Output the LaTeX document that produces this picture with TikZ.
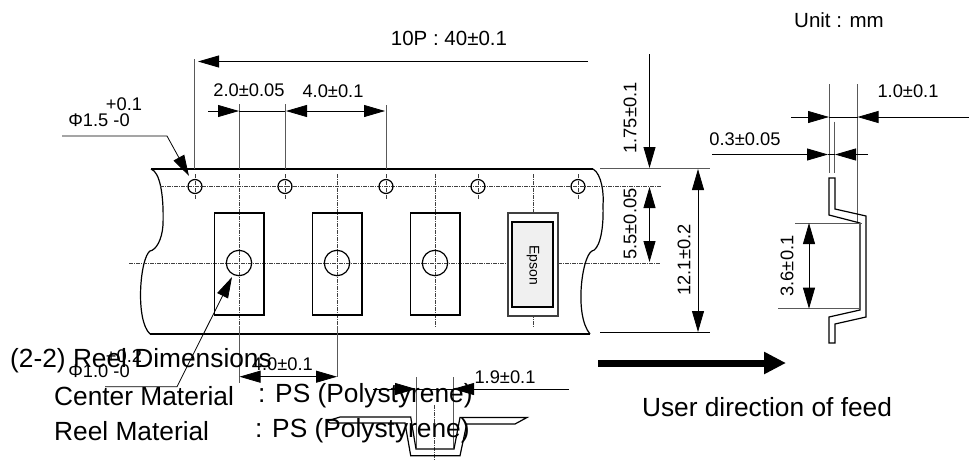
\documentclass[tikz,border=0pt]{standalone}
\usepackage{fontspec}
\setmainfont{Liberation Sans}
\usetikzlibrary{arrows.meta}
\tikzset{
  tape-line/.style={line width=1.7pt, black},
  tape-thin/.style={line width=1.2pt, black},
  ext-line/.style={line width=0.9pt, black!65},
  dim-line/.style={line width=0.8pt, black},
  dim-arrow/.style={dim-line, -{Triangle[length=21pt,width=12pt]}},
  dim-both/.style={dim-line, {Triangle[length=21pt,width=12pt]}-{Triangle[length=21pt,width=12pt]}},
  center-line/.style={line width=0.6pt, black!75, dash pattern=on 4pt off 1pt on 1pt off 1pt},
  feed-arrow/.style={line width=7pt, -{Triangle[length=22pt,width=21pt]}},
  small-label/.style={font=\fontsize{18.3}{20}\selectfont, inner sep=0pt},
  unit-label/.style={font=\fontsize{20.5}{22}\selectfont, inner sep=0pt},
  big-label/.style={font=\fontsize{26.3}{28}\selectfont, inner sep=0pt}
}
\begin{document}
\begin{tikzpicture}[x=1pt,y=-1pt]
  \useasboundingbox (0,0) rectangle (969,461);

  % tape outline
  \draw[tape-line] (151,169) -- (593,169);
  \draw[tape-line] (150,334) -- (590,334);
  \draw[tape-thin] (151,169) .. controls (160,172) and (164,195) .. (163,225)
    .. controls (162,240) and (156,250) .. (150,251)
    .. controls (140,258) and (135,320) .. (150,334);
  \draw[tape-thin] (593,169) .. controls (602,174) and (604,195) .. (603,205)
    .. controls (604,235) and (598,250) .. (592,251)
    .. controls (582,256) and (574,315) .. (590,334);

  % centre lines
  \draw[center-line] (160,186.5) -- (661,186.5);
  \draw[center-line] (129,263) -- (508,263) (558,263) -- (661,263);
  \foreach \px in {195,285,386,478,578} {
    \draw[center-line] (\px,174) -- (\px,199);
    \draw[tape-thin] (\px,186.5) circle (7);
  }
  \foreach \px in {239,337,435} {
    \draw[center-line] (\px,174) -- (\px,327);
    \draw[tape-thin] (\px-24.5,213) rectangle (\px+25,315);
    \draw[tape-thin] (\px,263) circle (12.7);
  }

  % embossed part
  \draw[center-line] (533,174) -- (533,327);
  \draw[tape-thin, black!75, fill=white] (508,213) rectangle (558,316);
  \draw[tape-line, fill=black!6] (512,222) rectangle (553,307);
  \node[rotate=-90, font=\fontsize{14}{16}\selectfont, inner sep=0pt] (epson) at (533,265) {Epson};

  % pitch and hole dimensions
  \draw[ext-line] (194.5,59) -- (194.5,169);
  \draw[dim-arrow] (588,61.5) -- (198,61.5);
  \node[unit-label] (pitch) at (449,38) {10P : 40±0.1};
  \foreach \px/\ytop in {239/104,285/104,386/105} {
    \draw[ext-line] (\px,\ytop) -- (\px,169);
  }
  \draw[dim-arrow] (208,111) -- (239,111);
  \draw[dim-line] (239,111) -- (285,111);
  \draw[dim-both] (286,111) -- (385,111);
  \node[small-label] (holeA) at (249,90) {2.0±0.05};
  \node[small-label] (holeB) at (333,91) {4.0±0.1};

  % sprocket hole leader
  \draw[dim-arrow] (62,136) -- (167,136) -- (189,176);
  \node[small-label] (sprocketTol) at (124,104) {+0.1};
  \node[small-label] (sprocketDia) at (99,120) {Φ1.5 -0};

  % vertical dimensions
  \draw[ext-line] (600,168) -- (710,168);
  \draw[dim-line] (600,332.5) -- (710,332.5);
  \draw[dim-arrow] (649.5,54) -- (649.5,168);
  \draw[dim-both] (649.5,187) -- (649.5,262);
  \draw[dim-both] (698,169) -- (698,332);
  \node[rotate=90, small-label] (edgeDist) at (630,118) {1.75±0.1};
  \node[rotate=90, small-label] (rowDist) at (630,224) {5.5±0.05};
  \node[rotate=90, small-label] (tapeWidth) at (684,260) {12.1±0.2};

  % feed direction
  \draw[feed-arrow] (598,363) -- (786,363);
  \node[big-label] (feed) at (767,407) {User direction of feed};

  % side profile
  \node[unit-label] (unit) at (839,20) {Unit : mm};
  \draw[ext-line] (829,84) -- (829,172.7);
  \draw[ext-line] (857.5,84) -- (857.5,223);
  \draw[ext-line] (834.7,121.7) -- (834.7,172.7);
  \draw[dim-arrow] (791,117) -- (829,117);
  \draw[dim-line] (829,117) -- (857.5,117);
  \draw[dim-arrow] (969,117) -- (857.5,117);
  \node[small-label] (pocketWall) at (908,91) {1.0±0.1};
  \draw[dim-arrow] (712,154.5) -- (828,154.5);
  \draw[dim-line] (828,154.5) -- (835,154.5);
  \draw[dim-arrow] (868,154.5) -- (835,154.5);
  \node[small-label] (wallThick) at (745,139) {0.3±0.05};
  \draw[tape-thin] (829,178) -- (835,178) -- (835,209) -- (866,216) -- (866,317)
    -- (835,324) -- (835,343) -- (829,343) -- (829,317) -- (860,310) -- (860,223)
    -- (829,215) -- cycle;
  \draw[ext-line] (795,223) -- (862,223);
  \draw[ext-line] (778,308.7) -- (859,308.7);
  \draw[dim-both] (809,223) -- (809,308.7);
  \node[rotate=90, small-label] (pocketDepth) at (787,266) {3.6±0.1};

  % bottom profile
  \draw[ext-line] (239,326) -- (239,383);
  \draw[ext-line] (337,326) -- (337,377);
  \draw[dim-both] (239.5,376.7) -- (337,376.7);
  \node[small-label, anchor=east] (pocketPitch) at (313,364) {4.0±0.1};
  \draw[ext-line] (416,377) -- (416,448);
  \draw[ext-line] (453,377) -- (453,448);
  \draw[dim-arrow] (373,389) -- (416,389);
  \draw[dim-line] (416,389) -- (453,389);
  \draw[dim-arrow] (569,389) -- (453,389);
  \node[small-label] (pocketLen) at (505,377) {1.9±0.1};
  \draw[center-line] (434,405) -- (434,461);
  \draw[tape-thin] (340,417) -- (410.7,417) -- (416,449) -- (454,449) -- (460,417.5)
    -- (527,417.5) -- (515,424) -- (466.7,424) -- (460,455.7) -- (410.7,455.7)
    -- (405,423) -- (330,423) -- (327,421) -- cycle;

  % centre hole leader
  \draw[dim-arrow] (105,386.7) -- (177,386.7) -- (232,277);
  \node[small-label] (centerTol) at (124,356) {+0.2};
  \node[small-label] (centerDia) at (99,371) {Φ1.0 -0};

  % reel text on top
  \node[big-label, anchor=west] (reelTitle) at (10,361) {(2-2) Reel Dimensions};
  \node[big-label, anchor=west] (centerMat) at (54,396) {Center Material};
  \node[big-label, anchor=west] (centerPs) at (258,396) {: PS (Polystyrene)};
  \node[big-label, anchor=west] (reelMat) at (54,431) {Reel Material};
  \node[big-label, anchor=west] (reelPs) at (255,431) {: PS (Polystyrene)};
\end{tikzpicture}
\end{document}
